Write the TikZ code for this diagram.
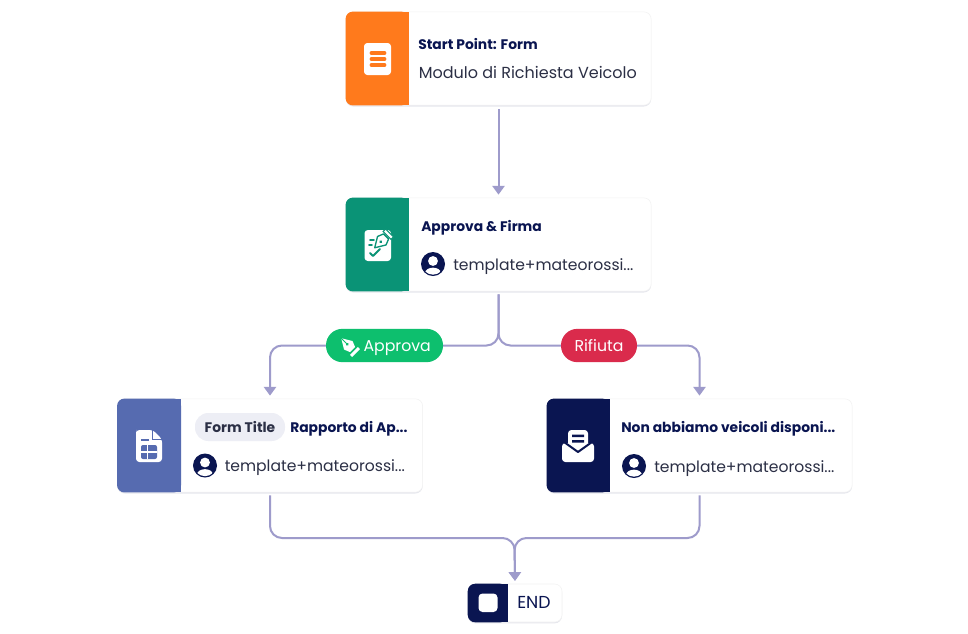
\documentclass[tikz,border=0pt]{standalone}
\usepackage{fontspec}
\setmainfont{Poppins}
\usetikzlibrary{calc,shadows,arrows.meta}

\definecolor{flowline}{HTML}{9E9BCB}
\definecolor{navy}{HTML}{0A1551}
\definecolor{inkgrey}{HTML}{2B2F45}
\definecolor{startorange}{HTML}{FF7A1C}
\definecolor{signteal}{HTML}{0A9376}
\definecolor{docblue}{HTML}{566BB0}
\definecolor{passgreen}{HTML}{0DBF6E}
\definecolor{rejectred}{HTML}{DA2B4C}
\definecolor{tagbg}{HTML}{EDEEF5}

\tikzset{
  card/.style={draw=black!5, fill=white, rounded corners=5.5pt, minimum width=229pt, minimum height=70pt,
    drop shadow={shadow xshift=0pt, shadow yshift=-1pt, opacity=.10, fill=navy}},
  endcard/.style={card, minimum width=70.5pt, minimum height=28.5pt},
  flow/.style={flowline, line width=1.5pt, rounded corners=9pt},
  flowtip/.style={flow, -{Triangle[width=9pt,length=6.5pt]}},
  headtext/.style={anchor=west, inner sep=0pt, yshift=-1.4pt, text height=7.4pt, text depth=1.6pt, text=navy,
    font=\fontsize{10.4}{12}\selectfont\bfseries},
  bodytext/.style={anchor=west, inner sep=0pt, yshift=-1.4pt, text height=8.2pt, text depth=1.8pt, text=inkgrey,
    font=\fontsize{11.7}{14}\selectfont},
  pill/.style={rounded corners=12.3pt, minimum height=25pt, inner sep=0pt, text height=10.6pt, text depth=1.4pt,
    text=white, font=\fontsize{11.8}{14}\selectfont}
}

% coloured band on the left of a card
\newcommand{\cardband}[3]{
  \fill[#3, rounded corners=5.5pt] (#1.north west) rectangle ($(#1.south west)+(#2,0)$);
  \fill[#3] ($(#1.north west)+(#2/2,0)$) rectangle ($(#1.south west)+(#2,0)$);
}

% round user picture
\newcommand{\useravatar}[2]{
  \fill[navy] (#1,#2) circle (9pt);
  \begin{scope}
    \clip (#1,#2) circle (8pt);
    \fill[white] (#1,#2-3) circle (3.7pt);
    \fill[white] (#1,#2+9) ellipse (6pt and 4pt);
  \end{scope}
}

\begin{document}
\begin{tikzpicture}[x=0.75pt, y=-0.75pt]
  \useasboundingbox (0,0) rectangle (968,633);
  \fill[white] (0,0) rectangle (968,633);

  % cards
  \node[card] (start) at (498.5,58.5) {};
  \node[card] (approve) at (498.5,244.5) {};
  \node[card] (report) at (270,445.5) {};
  \node[card] (nocar) at (699.5,445.5) {};
  \node[endcard] (finish) at (515,603) {};

  \cardband{start}{63}{startorange}
  \cardband{approve}{63}{signteal}
  \cardband{report}{64}{docblue}
  \cardband{nocar}{63}{navy}
  \cardband{finish}{40}{navy}

  % pills first, lines are named through them
  \coordinate (approvemid) at (384.5,345.5);
  \coordinate (rejectmid) at (599,345.5);
  \coordinate (joinpt) at (514.5,538);

  % connectors
  \draw[flowtip, shorten <=3pt, shorten >=2.2pt] (start.south) -- (approve.north);
  \draw[flowtip, shorten >=2.2pt] ($(approve.south)+(0,3)$) -- (approve.south |- approvemid) -| (report.north);
  \draw[flowtip, shorten >=2.2pt] ($(approve.south)+(0,3)$) -- (approve.south |- rejectmid) -| (nocar.north);
  \draw[flowtip, shorten >=2.2pt] ($(report.south)+(0,3)$) |- (joinpt) -- (finish.north);
  \draw[flowtip, shorten >=2.2pt] ($(nocar.south)+(0,3)$) |- (joinpt) -- (finish.north);

  % branch labels
  \node[pill, fill=passgreen, minimum width=87.75pt] (approvepill) at (approvemid) {\hspace*{19pt}Approva};
  \node[pill, fill=rejectred, minimum width=57pt] (rejectpill) at (rejectmid) {Rifiuta};

  % pen in the green label
  \begin{scope}[shift={(349,346)}, rotate=45]
    \fill[white] (0,-11) -- (6,-1) -- (3.6,5) -- (-3.6,5) -- (-6,-1) -- cycle;
    \fill[passgreen] (0,-2.5) circle (1.2pt);
    \draw[passgreen, line width=.7pt] (0,-2.5) -- (0,-11);
    \fill[white] (-5.5,7) rectangle (5.5,10);
  \end{scope}

  % start texts and icon
  \node[headtext] (starthead) at (418,44) {Start Point: Form};
  \node[bodytext, font=\fontsize{12}{14}\selectfont] (startbody) at (418.5,72) {Modulo di Richiesta Veicolo};
  \fill[white, rounded corners=2.5pt] (364,43) rectangle (391,75);
  \foreach \ypos in {53,59,65} {
    \draw[startorange, line width=2.8pt, line cap=round] (371.5,\ypos) -- (384.5,\ypos);
  }

  % approve texts and icon
  \node[headtext] (approvehead) at (421,226) {Approva \& Firma};
  \node[bodytext] (approveuser) at (453,264) {template+mateorossi...};
  \useravatar{433}{264}
  \fill[white, rounded corners=2.5pt] (364.5,230) rectangle (391,261);
  \begin{scope}[shift={(382.5,240)}, rotate=135]
    \filldraw[fill=white, draw=signteal, line width=1pt, line join=round] (0,-11) -- (6,-1) -- (3.6,5) -- (-3.6,5) -- (-6,-1) -- cycle;
    \fill[signteal] (0,-2.5) circle (1.1pt);
    \filldraw[fill=white, draw=signteal, line width=.8pt] (-5.5,6.5) rectangle (5.5,10);
  \end{scope}
  \draw[signteal, line width=1.4pt, line cap=round] (370,240) -- (374,240) (369,245) -- (372,245);
  \draw[signteal, line width=1.5pt, line cap=round, line join=round] (370,253) -- (373,256) -- (380,249);

  % report texts and icon
  \node[fill=tagbg, rounded corners=10pt, minimum width=67.5pt, minimum height=21pt, inner sep=0pt,
    text height=10pt, text depth=1.6pt, text=inkgrey, font=\fontsize{10.4}{12}\selectfont\bfseries] (reporttag) at (240,427) {Form Title};
  \node[headtext] (reporthead) at (290,427) {Rapporto di Ap...};
  \node[bodytext] (reportuser) at (224.5,465.5) {template+mateorossi...};
  \useravatar{205}{465.5}
  \fill[white, rounded corners=2.5pt] (136,433) -- (136,430) -- (153,430) -- (162,439) -- (162,462) -- (136,462) -- cycle;
  \draw[docblue, line width=.7pt] (152,430) -- (152,439) -- (162,439);
  \draw[docblue, line width=1.3pt] (141,440) -- (149,440);
  \fill[docblue, rounded corners=1.5pt] (141,445) rectangle (157,459);
  \draw[white, line width=1pt] (141,452) -- (157,452) (147.5,445) -- (147.5,459);

  % no car texts and icon
  \node[headtext] (nocarhead) at (621,427) {Non abbiamo veicoli disponi...};
  \node[bodytext] (nocaruser) at (654,466) {template+mateorossi...};
  \useravatar{634}{466}
  \fill[white, rounded corners=2.5pt] (562,443) rectangle (594,462);
  \fill[white, rounded corners=2.5pt] (568,430) rectangle (588,452);
  \draw[navy, line width=1.5pt, line join=round] (564,442) -- (578,452) -- (592,442);
  \fill[navy] (572,434.5) rectangle (584,437) (572,440) rectangle (584,442.5);

  % end
  \node[anchor=west, inner sep=0pt, text height=8.8pt, text depth=0pt, text=navy, font=\fontsize{13}{15}\selectfont] (finishtext) at (517,603) {END};
  \fill[white, rounded corners=3pt] (478.5,593.5) rectangle (497.5,612);

\end{tikzpicture}
\end{document}
